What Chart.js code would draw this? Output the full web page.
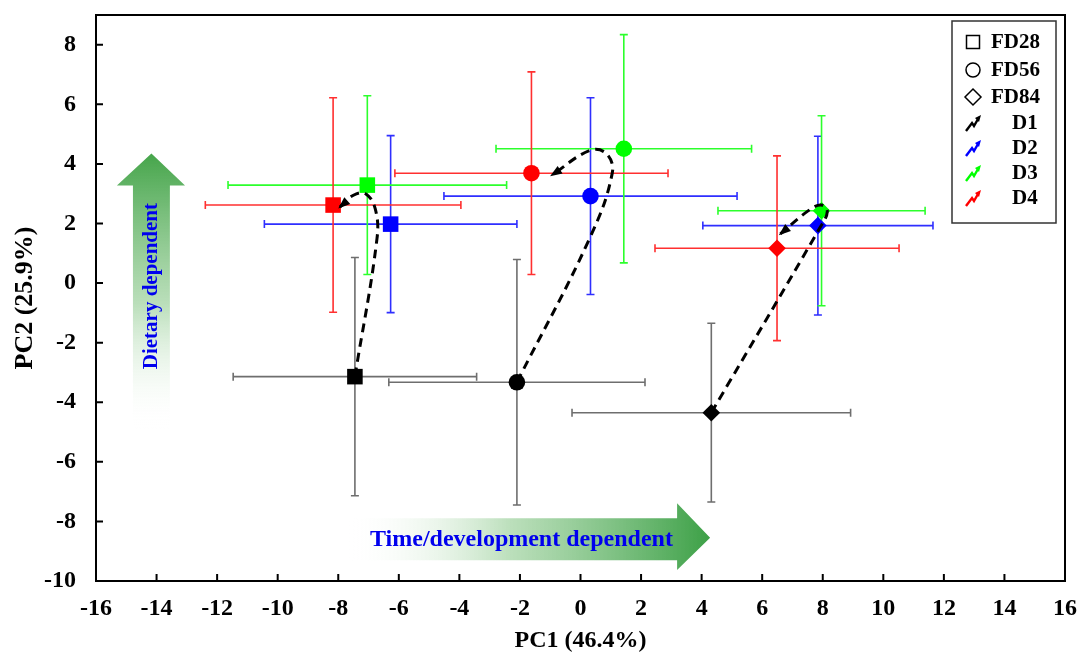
<!DOCTYPE html>
<html>
<head>
<meta charset="utf-8">
<script src="https://cdn.jsdelivr.net/npm/chart.js@4.4.1/dist/chart.umd.min.js"></script>
<style>
  html, body { margin: 0; padding: 0; background: #fff; }
  #wrap { width: 1081px; height: 657px; }
</style>
</head>
<body>
<div id="wrap"><canvas id="pca"></canvas></div>
<script>
// sampling stages (marker shape) and diets (colour)
const stages = ['FD28', 'FD56', 'FD84'];
const stageShapes = ['rect', 'circle', 'rectRot'];
const diets = ['D1', 'D2', 'D3', 'D4'];
const dietColors = ['#000000', '#0000ff', '#00ff00', '#ff0000'];
const errColors = ['#6e6e6e', '#2f2fff', '#2cff2c', '#ff3030'];

// PC scores, stage order FD28, FD56, FD84
const d1PC1 = [-7.45, -2.10, 4.32];
const d1PC2 = [-3.14, -3.33, -4.35];
const d1PC1Err = [4.02, 4.23, 4.60];
const d1PC2Err = [4.00, 4.12, 3.00];

const d2PC1 = [-6.27, 0.33, 7.84];
const d2PC2 = [1.98, 2.92, 1.93];
const d2PC1Err = [4.17, 4.84, 3.80];
const d2PC2Err = [2.97, 3.30, 3.00];

const d3PC1 = [-7.04, 1.43, 7.96];
const d3PC2 = [3.29, 4.51, 2.43];
const d3PC1Err = [4.60, 4.22, 3.42];
const d3PC2Err = [3.00, 3.83, 3.19];

const d4PC1 = [-8.17, -1.62, 6.49];
const d4PC2 = [2.62, 3.69, 1.17];
const d4PC1Err = [4.22, 4.51, 4.03];
const d4PC2Err = [3.60, 3.40, 3.10];

// dashed trajectories from D1 to the other diets, per stage
const fd28Path = [[-7.45, -3.14], [-6.72, 1.5], [-6.78, 2.5], [-7.1, 3.0], [-7.5, 2.95], [-7.95, 2.55]];
const fd56Path = [[-2.10, -3.33], [0.3, 1.5], [1.05, 3.7], [0.85, 4.35], [0.3, 4.45], [-0.95, 3.62]];
const fd84Path = [[4.32, -4.35], [7.9, 1.85], [8.15, 2.4], [7.95, 2.62], [7.55, 2.45], [6.6, 1.65]];

// axis ticks
const xTicks = [-16, -14, -12, -10, -8, -6, -4, -2, 0, 2, 4, 6, 8, 10, 12, 14, 16];
const yTicks = [-10, -8, -6, -4, -2, 0, 2, 4, 6, 8];

const serif = "'Liberation Serif', 'Times New Roman', serif";

const pc1 = [d1PC1, d2PC1, d3PC1, d4PC1];
const pc2 = [d1PC2, d2PC2, d3PC2, d4PC2];
const pc1Err = [d1PC1Err, d2PC1Err, d3PC1Err, d4PC1Err];
const pc2Err = [d1PC2Err, d2PC2Err, d3PC2Err, d4PC2Err];

const pointSets = diets.map((d, i) => ({
    label: d,
    type: 'scatter',
    order: 2,
    data: stages.map((s, j) => ({ x: pc1[i][j], y: pc2[i][j], ex: pc1Err[i][j], ey: pc2Err[i][j] })),
    pointStyle: stageShapes,
    pointRadius: [11, 8.3, 8.8],
    backgroundColor: dietColors[i],
    borderColor: dietColors[i],
    borderWidth: 0,
    errColor: errColors[i]
}));

const pathSets = [fd28Path, fd56Path, fd84Path].map((p, i) => ({
    label: stages[i] + ' path',
    type: 'line',
    order: 1,
    isPath: true,
    data: p.map(q => ({ x: q[0], y: q[1] })),
    borderColor: '#000',
    borderWidth: 3,
    borderDash: [9, 6],
    tension: 0.4,
    pointRadius: 0,
    fill: false
}));

// gradient arrows, in data units
function drawArrows(chart) {
    const ctx = chart.ctx, xs = chart.scales.x, ys = chart.scales.y;
    const X = v => xs.getPixelForValue(v), Y = v => ys.getPixelForValue(v);
    ctx.save();

    // horizontal arrow
    let g = ctx.createLinearGradient(X(-7.7), 0, X(4.3), 0);
    g.addColorStop(0, 'rgba(255,255,255,0)');
    g.addColorStop(0.45, 'rgba(170,215,170,0.8)');
    g.addColorStop(1, 'rgb(60,160,70)');
    ctx.fillStyle = g;
    ctx.beginPath();
    ctx.moveTo(X(-7.7), Y(-7.89));
    ctx.lineTo(X(3.19), Y(-7.89));
    ctx.lineTo(X(3.19), Y(-7.39));
    ctx.lineTo(X(4.28), Y(-8.55));
    ctx.lineTo(X(3.19), Y(-9.63));
    ctx.lineTo(X(3.19), Y(-9.30));
    ctx.lineTo(X(-7.7), Y(-9.30));
    ctx.closePath();
    ctx.fill();

    // vertical arrow
    g = ctx.createLinearGradient(0, Y(-4.9), 0, Y(4.35));
    g.addColorStop(0, 'rgba(255,255,255,0)');
    g.addColorStop(0.45, 'rgba(170,215,170,0.8)');
    g.addColorStop(1, 'rgb(70,165,75)');
    ctx.fillStyle = g;
    ctx.beginPath();
    ctx.moveTo(X(-14.78), Y(-4.9));
    ctx.lineTo(X(-14.78), Y(3.28));
    ctx.lineTo(X(-15.31), Y(3.28));
    ctx.lineTo(X(-14.17), Y(4.35));
    ctx.lineTo(X(-13.06), Y(3.28));
    ctx.lineTo(X(-13.56), Y(3.28));
    ctx.lineTo(X(-13.56), Y(-4.9));
    ctx.closePath();
    ctx.fill();

    ctx.fillStyle = '#0000ee';
    ctx.textAlign = 'center';
    ctx.textBaseline = 'middle';
    ctx.font = 'bold 24px ' + serif;
    ctx.fillText('Time/development dependent', X(-1.95), Y(-8.62));
    ctx.translate(X(-14.15), Y(-0.1));
    ctx.rotate(-Math.PI / 2);
    ctx.font = 'bold 21px ' + serif;
    ctx.fillText('Dietary dependent', 0, 0);
    ctx.restore();
}

function drawErrorBars(chart) {
    const ctx = chart.ctx, xs = chart.scales.x, ys = chart.scales.y;
    ctx.save();
    ctx.lineWidth = 1.6;
    chart.data.datasets.forEach(ds => {
        if (ds.isPath) return;
        ctx.strokeStyle = ds.errColor;
        ds.data.forEach(p => {
            const cx = xs.getPixelForValue(p.x), cy = ys.getPixelForValue(p.y);
            const xl = xs.getPixelForValue(p.x - p.ex), xr = xs.getPixelForValue(p.x + p.ex);
            const yt = ys.getPixelForValue(p.y + p.ey), yb = ys.getPixelForValue(p.y - p.ey);
            ctx.beginPath();
            ctx.moveTo(xl, cy); ctx.lineTo(xr, cy);
            ctx.moveTo(xl, cy - 4); ctx.lineTo(xl, cy + 4);
            ctx.moveTo(xr, cy - 4); ctx.lineTo(xr, cy + 4);
            ctx.moveTo(cx, yt); ctx.lineTo(cx, yb);
            ctx.moveTo(cx - 4, yt); ctx.lineTo(cx + 4, yt);
            ctx.moveTo(cx - 4, yb); ctx.lineTo(cx + 4, yb);
            ctx.stroke();
        });
    });
    ctx.restore();
}

function drawPathHeads(chart) {
    const ctx = chart.ctx;
    ctx.save();
    ctx.fillStyle = '#000';
    chart.data.datasets.forEach((ds, i) => {
        if (!ds.isPath) return;
        const pts = chart.getDatasetMeta(i).data;
        const a = pts[pts.length - 2], b = pts[pts.length - 1];
        const ang = Math.atan2(b.y - a.y, b.x - a.x);
        ctx.save();
        ctx.translate(b.x, b.y);
        ctx.rotate(ang);
        ctx.beginPath();
        ctx.moveTo(2, 0);
        ctx.lineTo(-10, -4.5);
        ctx.lineTo(-10, 4.5);
        ctx.closePath();
        ctx.fill();
        ctx.restore();
    });
    ctx.restore();
}

function drawFrame(chart) {
    const ctx = chart.ctx, a = chart.chartArea, xs = chart.scales.x, ys = chart.scales.y;
    ctx.save();
    ctx.strokeStyle = '#000';
    ctx.lineWidth = 2;
    ctx.strokeRect(a.left, a.top, a.right - a.left, a.bottom - a.top);
    ctx.beginPath();
    xTicks.forEach(v => {
        const px = xs.getPixelForValue(v);
        ctx.moveTo(px, a.bottom); ctx.lineTo(px, a.bottom - 7);
    });
    yTicks.forEach(v => {
        const py = ys.getPixelForValue(v);
        ctx.moveTo(a.left, py); ctx.lineTo(a.left + 7, py);
    });
    ctx.stroke();
    ctx.restore();
}

function drawBolt(ctx, x, y, color) {
    ctx.save();
    ctx.strokeStyle = color;
    ctx.fillStyle = color;
    ctx.lineWidth = 2.4;
    ctx.beginPath();
    ctx.moveTo(x - 7, y + 8);
    ctx.lineTo(x - 1, y);
    ctx.lineTo(x + 1, y + 3);
    ctx.lineTo(x + 5, y - 4);
    ctx.stroke();
    ctx.beginPath();
    ctx.moveTo(x + 8, y - 8);
    ctx.lineTo(x + 2, y - 5);
    ctx.lineTo(x + 6, y - 1);
    ctx.closePath();
    ctx.fill();
    ctx.restore();
}

function drawLegend(chart) {
    const ctx = chart.ctx;
    ctx.save();
    ctx.fillStyle = '#fff';
    ctx.fillRect(952, 21, 104, 202);
    ctx.strokeStyle = '#333';
    ctx.lineWidth = 1.5;
    ctx.strokeRect(952, 21, 104, 202);
    ctx.font = 'bold 21px ' + serif;
    ctx.textBaseline = 'middle';
    ctx.textAlign = 'left';
    ctx.fillStyle = '#000';
    const rows = [42, 70, 97];
    stages.forEach((s, i) => {
        const y = rows[i], x = 973;
        ctx.lineWidth = 1.5;
        ctx.strokeStyle = '#000';
        ctx.beginPath();
        if (i === 0) ctx.rect(x - 6.5, y - 6.5, 13, 13);
        else if (i === 1) ctx.arc(x, y, 7, 0, Math.PI * 2);
        else { ctx.moveTo(x, y - 8); ctx.lineTo(x + 8, y); ctx.lineTo(x, y + 8); ctx.lineTo(x - 8, y); ctx.closePath(); }
        ctx.stroke();
        ctx.fillText(s, 991, y + 1);
    });
    diets.forEach((d, i) => {
        const y = 123 + i * 25;
        drawBolt(ctx, 973, y, dietColors[i]);
        ctx.fillStyle = '#000';
        ctx.fillText(d, 1012, y + 1);
    });
    ctx.restore();
}

const decor = {
    id: 'decor',
    beforeDatasetsDraw(chart) { drawArrows(chart); drawErrorBars(chart); },
    afterDatasetsDraw(chart) { drawPathHeads(chart); },
    afterDraw(chart) { drawFrame(chart); drawLegend(chart); }
};

new Chart(document.getElementById('pca'), {
    type: 'scatter',
    data: { datasets: pointSets.concat(pathSets) },
    options: {
        responsive: true,
        maintainAspectRatio: false,
        animation: false,
        layout: { padding: { top: 15, right: 16, left: 0, bottom: 0 } },
        plugins: { legend: { display: false }, tooltip: { enabled: false } },
        scales: {
            x: {
                type: 'linear', min: -16, max: 16,
                afterFit: s => { s.height = 76; s.paddingLeft = 0; s.paddingRight = 0; },
                afterBuildTicks: s => { s.ticks = xTicks.map(v => ({ value: v })); },
                grid: { display: false, drawTicks: false },
                border: { display: false },
                ticks: { color: '#000', padding: 13, font: { family: serif, size: 24, weight: 'bold' } },
                title: { display: true, text: 'PC1 (46.4%)', color: '#000', padding: { top: 0, bottom: 2 },
                         font: { family: serif, size: 24, weight: 'bold' } }
            },
            y: {
                type: 'linear', min: -10, max: 9,
                afterFit: s => { s.width = 96; s.paddingTop = 0; s.paddingBottom = 0; },
                afterBuildTicks: s => { s.ticks = yTicks.map(v => ({ value: v })); },
                grid: { display: false, drawTicks: false },
                border: { display: false },
                ticks: { color: '#000', padding: 20, font: { family: serif, size: 24, weight: 'bold' } },
                title: { display: true, text: 'PC2 (25.9%)', color: '#000', padding: { top: 10, bottom: 0 },
                         font: { family: serif, size: 26, weight: 'bold' } }
            }
        }
    },
    plugins: [decor]
});
</script>
</body>
</html>
